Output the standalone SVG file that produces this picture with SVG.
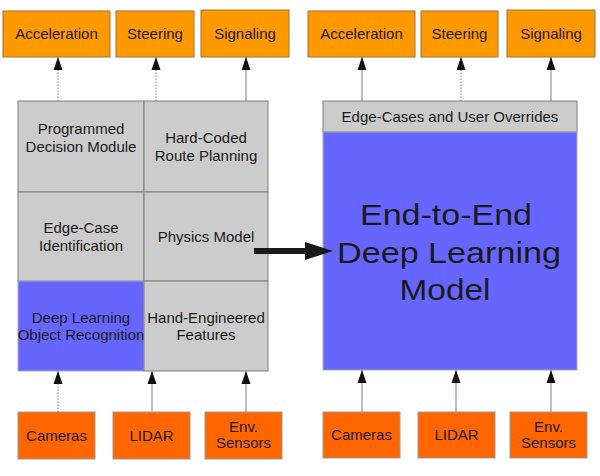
<svg xmlns="http://www.w3.org/2000/svg" width="600" height="476" viewBox="0 0 600 476">
<defs>
<style>
text{font-family:"Liberation Sans",Arial,sans-serif;font-size:15px;fill:#1a1a1a;text-anchor:middle}
.out{fill:#ff9900;stroke:#a0703a;stroke-width:1}
.in{fill:#ff6600;stroke:#999;stroke-width:1}
.cell{fill:#cccccc;stroke:#7f7f7f;stroke-width:1}
.blue{fill:#6666ff;stroke:#aaa;stroke-width:1}
.big{font-size:30px}
.c{stroke:#7f7f7f;stroke-width:1;fill:none}
.d{stroke-dasharray:1.5,1.5}
.l{stroke:#c0c0c0;stroke-width:2}
</style>
<marker id="ah" markerWidth="9" markerHeight="13" refX="4.5" refY="0" orient="0" markerUnits="userSpaceOnUse" viewBox="0 0 9 13" overflow="visible">
<path d="M4.5 0 L9 13 L0 13 Z" fill="#111"/>
</marker>
</defs>
<rect width="600" height="476" fill="#fff"/>

<g id="left-outputs">
<g id="l-accel"><rect class="out" x="3" y="11" width="107" height="46"/><text x="56.5" y="39">Acceleration</text></g>
<g id="l-steer"><rect class="out" x="116" y="11" width="78" height="46"/><text x="155" y="39">Steering</text></g>
<g id="l-signal"><rect class="out" x="201" y="10" width="88" height="47"/><text x="245" y="39">Signaling</text></g>
</g>

<g id="left-grid">
<g id="programmed"><rect class="cell" x="18" y="101" width="126" height="91"/><text x="81" y="134">Programmed</text><text x="81" y="152">Decision Module</text></g>
<g id="hardcoded"><rect class="cell" x="144" y="101" width="124" height="91"/><text x="206" y="143">Hard-Coded</text><text x="206" y="161">Route Planning</text></g>
<g id="edgecase"><rect class="cell" x="18" y="192" width="126" height="89"/><text x="81" y="233">Edge-Case</text><text x="81" y="251">Identification</text></g>
<g id="physics"><rect class="cell" x="144" y="192" width="124" height="89"/><text x="206" y="242">Physics Model</text></g>
<g id="deeplearning"><rect class="blue" x="18" y="281" width="126" height="90"/><text x="81" y="323">Deep Learning</text><text x="81" y="340">Object Recognition</text></g>
<g id="handeng"><rect class="cell" x="144" y="281" width="124" height="90"/><text x="206" y="323">Hand-Engineered</text><text x="206" y="340">Features</text></g>
</g>

<g id="left-inputs">
<g id="l-cam"><rect class="in" x="18" y="412" width="77" height="47"/><text x="56.5" y="441">Cameras</text></g>
<g id="l-lidar"><rect class="in" x="113" y="412" width="77" height="47"/><text x="151.5" y="441">LIDAR</text></g>
<g id="l-env"><rect class="in" x="205" y="412" width="77" height="47"/><text x="243.5" y="432">Env.</text><text x="243.5" y="448">Sensors</text></g>
</g>

<g id="right-outputs">
<g id="r-accel"><rect class="out" x="308" y="11" width="107" height="46"/><text x="361.5" y="39">Acceleration</text></g>
<g id="r-steer"><rect class="out" x="421" y="11" width="77" height="46"/><text x="459.5" y="39">Steering</text></g>
<g id="r-signal"><rect class="out" x="507" y="10" width="88" height="47"/><text x="551" y="39">Signaling</text></g>
</g>

<g id="right-model">
<g id="overrides"><rect class="cell" x="323" y="101" width="254" height="31" stroke="#aaa"/><text x="450" y="122">Edge-Cases and User Overrides</text></g>
<g id="e2e"><rect class="blue" x="323" y="132" width="254" height="238"/>
<text class="big" x="446" y="225" textLength="172" lengthAdjust="spacingAndGlyphs">End-to-End</text>
<text class="big" x="449" y="263" textLength="224" lengthAdjust="spacingAndGlyphs">Deep Learning</text>
<text class="big" x="445" y="300" textLength="91" lengthAdjust="spacingAndGlyphs">Model</text>
</g>
</g>

<g id="right-inputs">
<g id="r-cam"><rect class="in" x="323" y="412" width="77" height="46"/><text x="361.5" y="440">Cameras</text></g>
<g id="r-lidar"><rect class="in" x="418" y="412" width="77" height="46"/><text x="456.5" y="440">LIDAR</text></g>
<g id="r-env"><rect class="in" x="510" y="412" width="77" height="46"/><text x="548.5" y="432">Env.</text><text x="548.5" y="448">Sensors</text></g>
</g>

<g id="connectors">
<line class="c d" x1="58" y1="101" x2="58" y2="57" marker-end="url(#ah)"/>
<line class="c d" x1="156" y1="101" x2="156" y2="57" marker-end="url(#ah)" stroke="#aaa"/>
<line class="c" x1="246" y1="101" x2="246" y2="57" marker-end="url(#ah)"/>
<line class="c d" x1="58" y1="412" x2="58" y2="371" marker-end="url(#ah)"/>
<line class="c l" x1="152" y1="412" x2="152" y2="371" marker-end="url(#ah)"/>
<line class="c" x1="246" y1="412" x2="246" y2="371" marker-end="url(#ah)"/>
<line class="c" x1="362" y1="101" x2="362" y2="57" marker-end="url(#ah)"/>
<line class="c d" x1="461" y1="101" x2="461" y2="57" marker-end="url(#ah)"/>
<line class="c" x1="551" y1="101" x2="551" y2="57" marker-end="url(#ah)"/>
<line class="c" x1="362" y1="412" x2="362" y2="370" marker-end="url(#ah)"/>
<line class="c" x1="456" y1="412" x2="456" y2="370" marker-end="url(#ah)"/>
<line class="c" x1="551" y1="412" x2="551" y2="370" marker-end="url(#ah)"/>
<g id="big-arrow">
<line x1="254" y1="251" x2="308" y2="251" stroke="#1a1a1a" stroke-width="6"/>
<path d="M305 242 L333 251 L305 260 Z" fill="#1a1a1a"/>
</g>
</g>
</svg>
